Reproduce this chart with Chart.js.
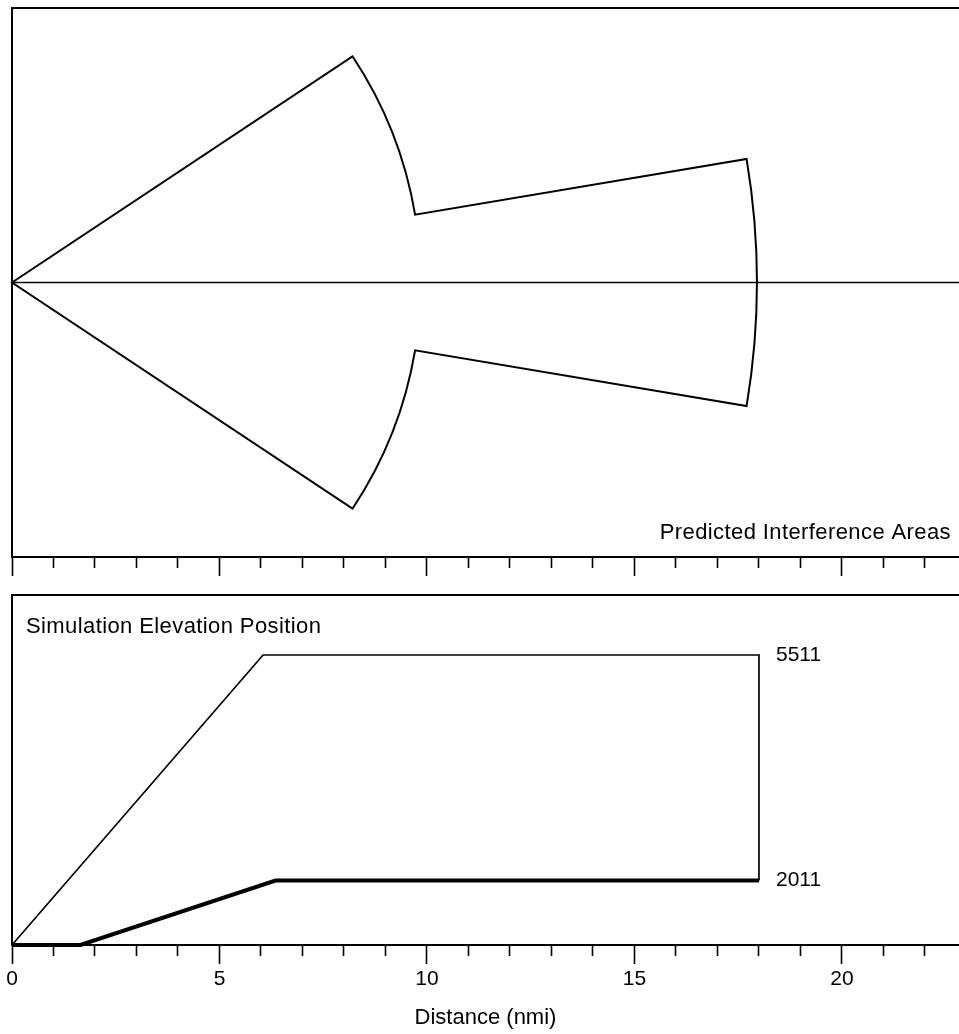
<!DOCTYPE html>
<html>
<head>
<meta charset="utf-8">
<script src="https://cdn.jsdelivr.net/npm/chart.js@4.4.1/dist/chart.umd.min.js"></script>
<style>
  html, body { margin: 0; padding: 0; background: #fff; }
  body { width: 959px; height: 1034px; position: relative; overflow: hidden; }
  .panel { position: absolute; left: 0; width: 959px; }
  #top { top: 0; height: 590px; }
  #bottom { top: 590px; height: 444px; }
</style>
</head>
<body>
<div class="panel" id="top"><canvas id="areaChart"></canvas></div>
<div class="panel" id="bottom"><canvas id="elevChart"></canvas></div>
<script>
// shared distance axis (nmi)
const distMin = 0;
const distMax = 22.82;
const distStep = 1;
const distLabelEvery = 5;

// top panel: predicted interference areas, polar outline (radius nmi, half angle deg)
const crossRange = 6.615;
const sectorRadii = [9.85, 17.95];
const sectorHalfAngles = [33.6, 9.55];
const areaTitle = "Predicted Interference Areas";

// bottom panel: simulation elevation (ft)
const elevMin = 1011;
const elevMax = 6442;
const highDist = [0, 6.05, 18, 18];
const highElev = [1011, 5511, 5511, 2011];
const lowDist = [0, 1.65, 6.35, 18];
const lowElev = [1011, 1011, 2011, 2011];
const endLabels = ["5511", "2011"];
const endLabelElev = [5511, 2011];
const endLabelDist = 18;
const elevTitle = "Simulation Elevation Position";
const xTitle = "Distance (nmi)";

const FONT = "'Liberation Sans', Arial, Helvetica, sans-serif";

function toPoints(xs, ys) {
  return xs.map((x, i) => ({ x: x, y: ys[i] }));
}

function distanceAxis(height, showLabels) {
  return {
    type: "linear",
    position: "bottom",
    min: distMin,
    max: distMax,
    border: { display: true, color: "#000", width: 2 },
    grid: {
      drawOnChartArea: false,
      drawTicks: true,
      tickLength: 19,
      tickColor: "#000",
      tickWidth: 1.6,
      // minor ticks are cut short with a dash pattern
      tickBorderDash: (c) => (c.tick && c.tick.value % distLabelEvery !== 0 ? [10, 40] : []),
    },
    ticks: {
      display: showLabels,
      stepSize: distStep,
      autoSkip: false,
      includeBounds: false,
      maxRotation: 0,
      padding: 3,
      color: "#000",
      font: { family: FONT, size: 21 },
      callback: (v) => (v % distLabelEvery === 0 ? v : ""),
    },
    title: {
      display: showLabels,
      text: xTitle,
      color: "#000",
      font: { family: FONT, size: 22 },
      padding: { top: 0, bottom: 3 },
    },
    afterFit: (s) => { s.height = height; },
  };
}

function frameTopAxis() {
  return {
    type: "linear",
    position: "top",
    min: distMin,
    max: distMax,
    border: { display: true, color: "#000", width: 2 },
    grid: { drawOnChartArea: false, drawTicks: false },
    ticks: { display: false },
    afterFit: (s) => { s.height = 0; },
  };
}

function frameLeftAxis(min, max) {
  return {
    type: "linear",
    position: "left",
    min: min,
    max: max,
    border: { display: true, color: "#000", width: 2 },
    grid: { drawOnChartArea: false, drawTicks: false },
    ticks: { display: false },
    afterFit: (s) => { s.width = 0; },
  };
}

function panelText(ctx, text, x, y, align) {
  ctx.save();
  ctx.font = "22px " + FONT;
  ctx.fillStyle = "#000";
  ctx.textAlign = align;
  ctx.textBaseline = "alphabetic";
  if ("letterSpacing" in ctx) ctx.letterSpacing = "0.4px";
  ctx.fillText(text, x, y);
  ctx.restore();
}

// outline of the interference areas, drawn through the chart scales
const sectorPlugin = {
  id: "sectors",
  afterDatasetsDraw(chart) {
    const xs = chart.scales.x;
    const ys = chart.scales.y;
    const ctx = chart.ctx;
    const rad = (d) => (d * Math.PI) / 180;
    const cx = xs.getPixelForValue(0);
    const cy = ys.getPixelForValue(0);
    const rx = (r) => xs.getPixelForValue(r) - cx;
    const ry = (r) => cy - ys.getPixelForValue(r);
    const pt = (r, a) => [xs.getPixelForValue(r * Math.cos(rad(a))), ys.getPixelForValue(r * Math.sin(rad(a)))];
    const [r1, r2] = sectorRadii;
    const [a1, a2] = sectorHalfAngles;

    ctx.save();
    ctx.beginPath();
    ctx.moveTo(cx, cy);
    ctx.lineTo(...pt(r1, a1));
    ctx.ellipse(cx, cy, rx(r1), ry(r1), 0, -rad(a1), -rad(a2));
    ctx.lineTo(...pt(r2, a2));
    ctx.ellipse(cx, cy, rx(r2), ry(r2), 0, -rad(a2), rad(a2));
    ctx.lineTo(...pt(r1, -a2));
    ctx.ellipse(cx, cy, rx(r1), ry(r1), 0, rad(a2), rad(a1));
    ctx.closePath();
    ctx.lineWidth = 2;
    ctx.strokeStyle = "#000";
    ctx.lineJoin = "miter";
    ctx.stroke();
    ctx.restore();

    const area = chart.chartArea;
    panelText(ctx, areaTitle, area.right - 8, area.bottom - 18, "right");
  },
};

const elevLabelPlugin = {
  id: "elevLabels",
  afterDatasetsDraw(chart) {
    const xs = chart.scales.x;
    const ys = chart.scales.y;
    const ctx = chart.ctx;
    ctx.save();
    ctx.font = "21px " + FONT;
    ctx.fillStyle = "#000";
    ctx.textAlign = "left";
    ctx.textBaseline = "middle";
    endLabels.forEach((t, i) => {
      ctx.fillText(t, xs.getPixelForValue(endLabelDist) + 17, ys.getPixelForValue(endLabelElev[i]));
    });
    ctx.restore();
    const area = chart.chartArea;
    panelText(ctx, elevTitle, area.left + 14, area.top + 38, "left");
  },
};

const commonOptions = {
  responsive: true,
  maintainAspectRatio: false,
  animation: false,
  events: [],
  plugins: { legend: { display: false }, tooltip: { enabled: false } },
};

new Chart(document.getElementById("areaChart").getContext("2d"), {
  type: "scatter",
  data: {
    datasets: [
      {
        label: "Centre line",
        data: toPoints([distMin, distMax], [0, 0]),
        showLine: true,
        borderColor: "#000",
        borderWidth: 1.7,
        pointRadius: 0,
        clip: false,
      },
    ],
  },
  options: {
    ...commonOptions,
    layout: { padding: { top: 8, left: 12, right: 0, bottom: 0 } },
    scales: {
      x: distanceAxis(33, false),
      x2: frameTopAxis(),
      y: frameLeftAxis(-crossRange, crossRange),
    },
  },
  plugins: [sectorPlugin],
});

new Chart(document.getElementById("elevChart").getContext("2d"), {
  type: "scatter",
  data: {
    datasets: [
      {
        label: "5511",
        data: toPoints(highDist, highElev),
        showLine: true,
        borderColor: "#000",
        borderWidth: 1.7,
        pointRadius: 0,
        clip: false,
      },
      {
        label: "2011",
        data: toPoints(lowDist, lowElev),
        showLine: true,
        borderColor: "#000",
        borderWidth: 4,
        pointRadius: 0,
        clip: false,
      },
    ],
  },
  options: {
    ...commonOptions,
    layout: { padding: { top: 5, left: 12, right: 0, bottom: 0 } },
    scales: {
      x: distanceAxis(89, true),
      x2: frameTopAxis(),
      y: frameLeftAxis(elevMin, elevMax),
    },
  },
  plugins: [elevLabelPlugin],
});
</script>
</body>
</html>
